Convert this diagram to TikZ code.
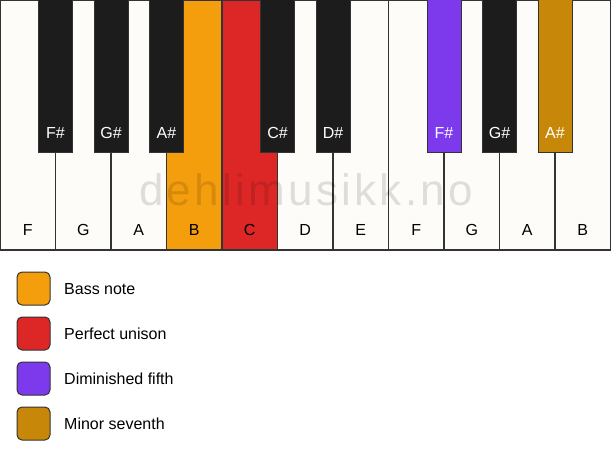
\documentclass[tikz,border=0pt]{standalone}
\usepackage{fontspec}
\setmainfont{Liberation Sans}
\usepackage{tikz,xcolor}
\usetikzlibrary{positioning}
\definecolor{keywhite}{HTML}{FDFCF9}
\definecolor{keyblack}{HTML}{1C1C1C}
\definecolor{keyedge}{HTML}{333333}
\definecolor{bassnote}{HTML}{F49E0E}
\definecolor{unison}{HTML}{DD2727}
\definecolor{dimfifth}{HTML}{7D3AED}
\definecolor{minseventh}{HTML}{C7880A}
\tikzstyle{whitekey} = [draw=keyedge, line width=1.2pt, fill=keywhite]
\tikzstyle{blackkey} = [draw=keyedge, line width=1pt, fill=keyblack]
\tikzset{keylabel/.style={font=\fontsize{16}{18}\selectfont, text=black},
    blacklabel/.style={font=\fontsize{16}{18}\selectfont, text=white},
    legendbox/.style={draw=keyedge, line width=1pt, rounded corners=5pt},
    legendtext/.style={font=\fontsize{16}{18}\selectfont, anchor=west, inner sep=0pt}}

\begin{document}
\begin{tikzpicture}[x=1pt, y=-1pt]
    \useasboundingbox (0,0) rectangle (611,461);
    % Definition of the key sizes
    \def\wkw{55.5}
    \def\bkw{34}
    %
    % white keys
    \foreach \i/\name/\col in {0/F/keywhite, 1/G/keywhite, 2/A/keywhite,
        3/B/bassnote, 4/C/unison, 5/D/keywhite, 6/E/keywhite, 7/F/keywhite,
        8/G/keywhite, 9/A/keywhite, 10/B/keywhite}{
      \draw[whitekey, fill=\col] ({\i*\wkw},0) rectangle ({(\i+1)*\wkw},250);
      \node[keylabel] (key-\i) at ({(\i+0.5)*\wkw},230) {\name};
    }
    % watermark
    \node[font=\fontsize{44}{48}\selectfont\addfontfeature{LetterSpace=7.5},
      text=black, text opacity=0.12] (mark) at (306,190) {dehlimusikk.no};
    % black keys
    \foreach \k/\name/\col in {1/F\#/keyblack, 2/G\#/keyblack, 3/A\#/keyblack,
        5/C\#/keyblack, 6/D\#/keyblack, 8/F\#/dimfifth, 9/G\#/keyblack,
        10/A\#/minseventh}{
      \draw[blackkey, fill=\col] ({\k*\wkw-\bkw/2},-1) rectangle ({\k*\wkw+\bkw/2},152);
      \node[blacklabel] (bk-\k) at ({\k*\wkw},133) {\name};
    }
    % legend
    \foreach \j/\col/\txt in {0/bassnote/Bass note, 1/unison/Perfect unison,
        2/dimfifth/Diminished fifth, 3/minseventh/Minor seventh}{
      \draw[legendbox, fill=\col] (17,{272+45*\j}) rectangle (50,{305+45*\j});
      \node[legendtext] (leg-\j) at (64,{289+45*\j}) {\txt};
    }
\end{tikzpicture}
\end{document}
